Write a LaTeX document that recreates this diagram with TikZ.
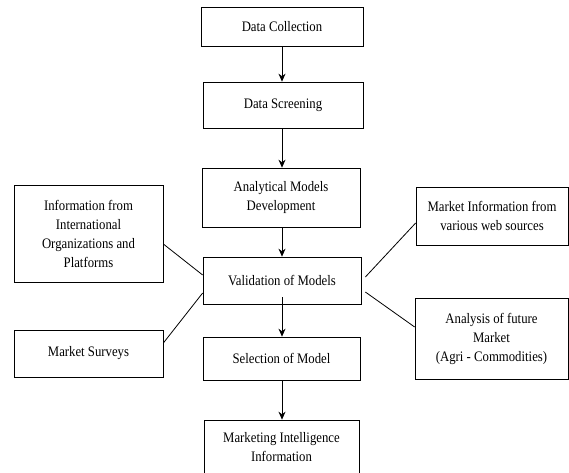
\documentclass[tikz,border=0pt]{standalone}
\usepackage{fontspec}
\setmainfont{Liberation Serif}[FakeStretch=0.88]
\usetikzlibrary{arrows.meta,shadows}

\begin{document}
\begin{tikzpicture}[x=1pt,y=-1pt]
    \useasboundingbox (0,0) rectangle (569,472);
    \tikzset{StepBox/.style={draw, fill=white, line width=0.7pt, align=center,
        inner sep=0pt, font=\fontsize{14.5}{19}\selectfont,
        drop shadow={shadow xshift=1.2pt, shadow yshift=-1.2pt, fill=black, opacity=1}}}
    \tikzset{FlowArrow/.style={-{Stealth[length=8pt,width=7pt]}, line width=0.8pt}}
    \tikzset{LinkLine/.style={line width=0.8pt}}

    \node[StepBox, minimum width=162, minimum height=39] (collect) at (282,26.5) {Data Collection};
    \node[StepBox, minimum width=160, minimum height=46] (screen)  at (283,105)  {Data Screening};
    \node[StepBox, minimum width=158, minimum height=59] (develop) at (281,197.5) {Analytical Models\\Development};
    \node[StepBox, minimum width=158, minimum height=47] (valid)   at (282,280.5) {Validation of Models};
    \node[StepBox, minimum width=157, minimum height=43] (select)  at (281.5,358.5) {Selection of Model};
    \node[StepBox, minimum width=155, minimum height=54] (intel)   at (281.5,447) {Marketing Intelligence\\Information};

    \node[StepBox, minimum width=149, minimum height=97] (intl)    at (88.5,233.5) {Information from\\International\\Organizations and\\Platforms};
    \node[StepBox, minimum width=149, minimum height=47] (survey)  at (88.5,353.5) {Market Surveys};
    \node[StepBox, minimum width=152, minimum height=58] (web)     at (492,216) {Market Information from\\various web sources};
    \node[StepBox, minimum width=153, minimum height=81] (future)  at (491.5,338.5) {Analysis of future\\Market\\(Agri - Commodities)};

    \draw[FlowArrow] (collect.south) -- (collect.south |- screen.north);
    \draw[FlowArrow] (collect.south |- screen.south) -- (collect.south |- develop.north);
    \draw[FlowArrow] (collect.south |- develop.south) -- (collect.south |- valid.north);
    \draw[FlowArrow] ([yshift=7pt]collect.south |- valid.south) -- (collect.south |- select.north);
    \draw[FlowArrow] (collect.south |- select.south) -- (collect.south |- intel.north);

    \draw[LinkLine] ([yshift=-10.5pt]intl.east) -- ([yshift=5.5pt]valid.west);
    \draw[LinkLine] ([yshift=10.5pt]survey.east) -- ([yshift=-12.5pt]valid.west);
    \draw[LinkLine] ([xshift=4pt,yshift=3.5pt]valid.east) -- ([yshift=-7pt]web.west);
    \draw[LinkLine] ([xshift=4pt,yshift=-11.5pt]valid.east) -- ([yshift=11.5pt]future.west);
\end{tikzpicture}
\end{document}
